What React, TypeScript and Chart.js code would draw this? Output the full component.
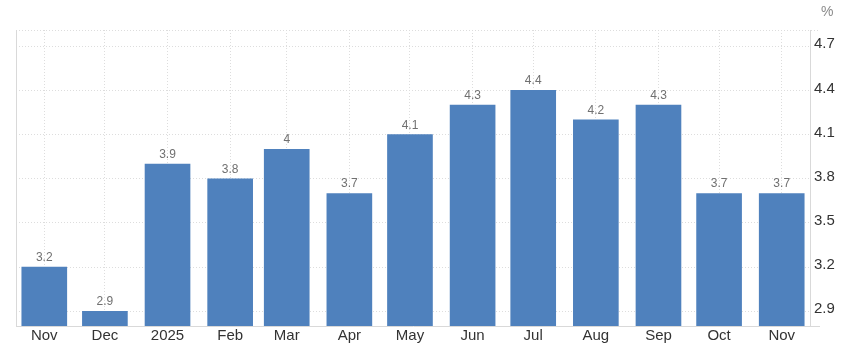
import React, { useEffect, useRef } from "react";
import { Chart, registerables } from "chart.js";

Chart.register(...registerables);

const monthDates = [
  "2024-11-01", "2024-12-01", "2025-01-01", "2025-02-01", "2025-03-01",
  "2025-04-01", "2025-05-01", "2025-06-01", "2025-07-01", "2025-08-01",
  "2025-09-01", "2025-10-01", "2025-11-01",
];
const monthLabels = ["Nov", "Dec", "2025", "Feb", "Mar", "Apr", "May", "Jun", "Jul", "Aug", "Sep", "Oct", "Nov"];
const values = [3.2, 2.9, 3.9, 3.8, 4.0, 3.7, 4.1, 4.3, 4.4, 4.2, 4.3, 3.7, 3.7];
const yTicks = [2.9, 3.2, 3.5, 3.8, 4.1, 4.4, 4.7];
const yMin = 2.8;
const yMax = 4.81;
const xPadDays = 14;

const DAY = 86400000;
const t0 = Date.parse(monthDates[0]);
const dayOffsets = monthDates.map((d) => Math.round((Date.parse(d) - t0) / DAY));

const FONT = "Arial, 'Liberation Sans', sans-serif";
const BAR = "#4f81bd";
const GRID = "#dddddd";
const AXIS = "#d9d9d9";

const framePlugin = {
  id: "frame",
  beforeDatasetsDraw(chart: any) {
    const { ctx, chartArea } = chart;
    ctx.save();
    ctx.lineWidth = 1;
    ctx.strokeStyle = GRID;
    ctx.setLineDash([1, 2]);
    ctx.beginPath();
    ctx.moveTo(chartArea.left, Math.round(chartArea.top) + 0.5);
    ctx.lineTo(chartArea.right + 10, Math.round(chartArea.top) + 0.5);
    ctx.stroke();
    ctx.setLineDash([]);
    ctx.strokeStyle = AXIS;
    ctx.beginPath();
    ctx.moveTo(Math.round(chartArea.left) + 0.5, chartArea.top);
    ctx.lineTo(Math.round(chartArea.left) + 0.5, chartArea.bottom);
    ctx.moveTo(chartArea.right, Math.round(chartArea.bottom) + 0.5);
    ctx.lineTo(chartArea.right + 10, Math.round(chartArea.bottom) + 0.5);
    ctx.stroke();
    ctx.restore();
  },
};

const valueLabelPlugin = {
  id: "valueLabels",
  afterDatasetsDraw(chart: any) {
    const { ctx } = chart;
    const meta = chart.getDatasetMeta(0);
    ctx.save();
    ctx.font = `12px ${FONT}`;
    ctx.fillStyle = "#707070";
    ctx.textAlign = "center";
    ctx.textBaseline = "alphabetic";
    meta.data.forEach((bar: any, i: number) => {
      ctx.fillText(String(values[i]), bar.x, bar.y - 6);
    });
    ctx.restore();
  },
};

export default function App() {
  const ref = useRef<HTMLCanvasElement | null>(null);

  useEffect(() => {
    document.body.style.margin = "0";
    const canvas = ref.current;
    if (!canvas) return;
    const chart = new Chart(canvas, {
      type: "bar",
      data: {
        datasets: [
          {
            data: dayOffsets.map((x, i) => ({ x, y: values[i] })),
            backgroundColor: BAR,
            borderWidth: 0,
            barThickness: 45,
          },
        ],
      },
      options: {
        responsive: false,
        animation: false,
        layout: { padding: { top: 30, left: 16, right: 0, bottom: 0 } },
        plugins: { legend: { display: false }, tooltip: { enabled: false }, title: { display: false } },
        scales: {
          x: {
            type: "linear",
            offset: false,
            min: dayOffsets[0] - xPadDays,
            max: dayOffsets[dayOffsets.length - 1] + xPadDays,
            afterBuildTicks: (scale: any) => {
              scale.ticks = dayOffsets.map((v) => ({ value: v }));
            },
            afterFit: (scale: any) => {
              scale.height = 26;
            },
            grid: { color: GRID, drawTicks: false, lineWidth: 1, offset: false },
            border: { display: true, color: AXIS, dash: [1, 2] },
            ticks: {
              autoSkip: false,
              maxRotation: 0,
              padding: 1,
              color: "#333333",
              font: { family: FONT, size: 15 },
              callback: (_v: any, i: number) => monthLabels[i],
            },
          },
          y: {
            type: "linear",
            position: "right",
            min: yMin,
            max: yMax,
            afterBuildTicks: (scale: any) => {
              scale.ticks = yTicks.map((v) => ({ value: v }));
            },
            afterFit: (scale: any) => {
              scale.width = 31;
            },
            grid: { color: GRID, drawTicks: false, lineWidth: 1 },
            border: { display: true, color: AXIS, dash: [1, 2] },
            ticks: {
              padding: 4,
              labelOffset: -2,
              color: "#333333",
              font: { family: FONT, size: 15 },
              callback: (v: any) => String(v),
            },
          },
        },
      },
      plugins: [framePlugin, valueLabelPlugin],
    } as any);
    return () => chart.destroy();
  }, []);

  return (
    <div style={{ position: "relative", width: 841, height: 352, background: "#ffffff" }}>
      <canvas ref={ref} width={841} height={352} style={{ display: "block" }} />
      <span
        style={{
          position: "absolute",
          left: 821,
          top: 2,
          fontFamily: FONT,
          fontSize: 14,
          color: "#8a8a8a",
          lineHeight: "18px",
        }}
      >
        %
      </span>
    </div>
  );
}
